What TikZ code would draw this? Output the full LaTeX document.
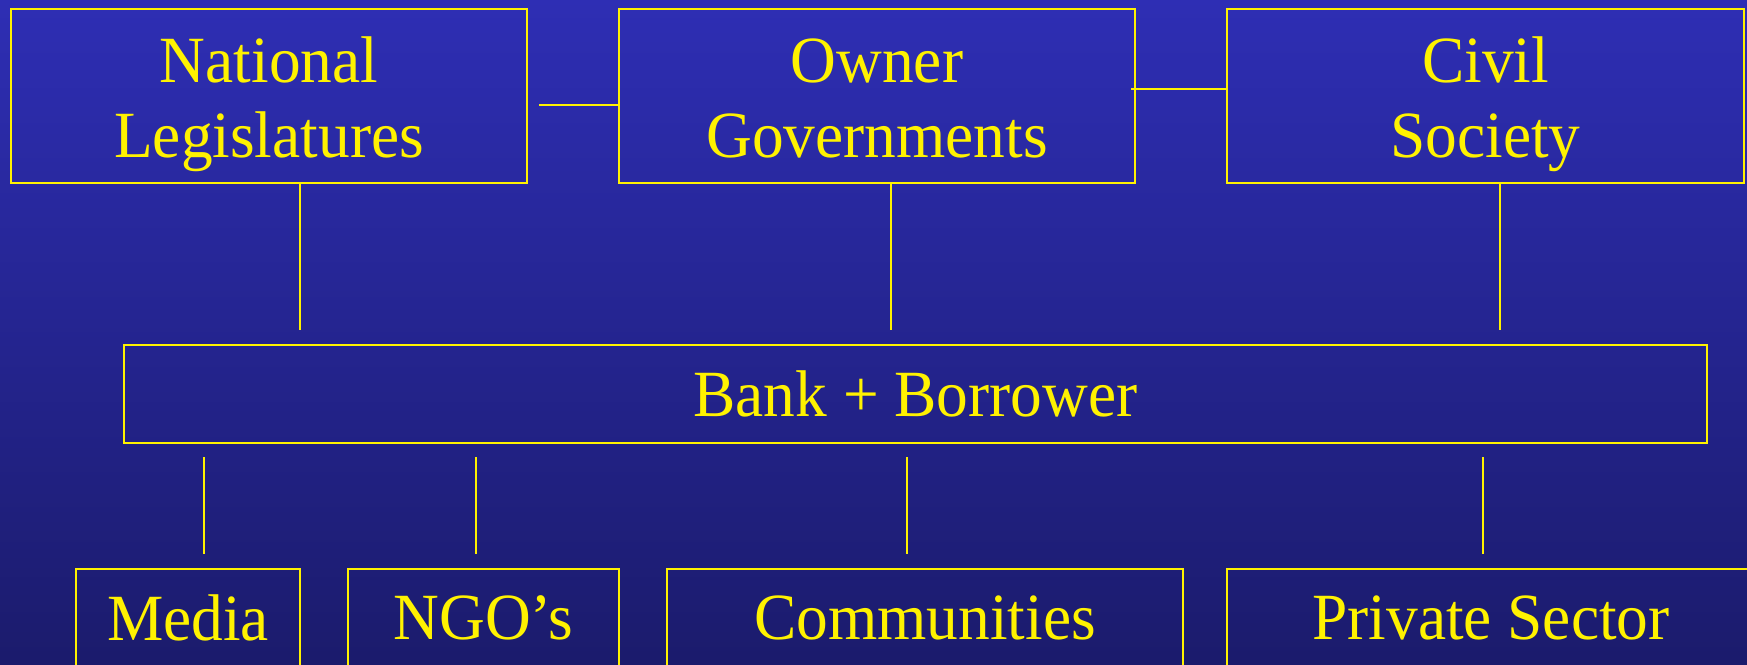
\documentclass[tikz,border=0pt]{standalone}
\usepackage{fontspec}
\setmainfont{Liberation Serif}[FakeStretch=0.96]
\definecolor{bgtop}{RGB}{46,46,180}
\definecolor{bgbottom}{RGB}{27,27,108}
\tikzset{
  box/.style={draw=yellow, line width=2pt, text=yellow, align=center, inner sep=0pt, outer sep=0pt},
  topbox/.style={box, minimum height=174pt, text height=123.4pt, text depth=0pt},
  link/.style={draw=yellow, line width=1.6pt},
}
\begin{document}
\begin{tikzpicture}[x=1pt, y=-1pt, font=\fontsize{66}{75.5}\selectfont, line cap=butt]
  \shade[top color=bgtop, bottom color=bgbottom] (0,0) rectangle (1747,664);
  \useasboundingbox (0,0) rectangle (1747,664);
  % top row
  \node[topbox, minimum width=516pt] (nl) at (269,96) {National\\Legislatures};
  \node[topbox, minimum width=516pt] (og) at (877,96) {Owner\\Governments};
  \node[topbox, minimum width=517pt] (cs) at (1485.5,96) {Civil\\Society};
  % middle
  \node[box, minimum width=1583pt, minimum height=98pt] (bank) at (915.5,394) {Bank + Borrower};
  % bottom row
  \node[box, minimum width=224pt, minimum height=98pt] (media) at (188,618) {Media};
  \node[box, minimum width=271pt, minimum height=98pt] (ngo) at (483.5,618) {NGO’s};
  \node[box, minimum width=516pt, minimum height=98pt] (comm) at (925,618) {Communities};
  \node[box, minimum width=528pt, minimum height=98pt] (ps) at (1491,618) {Private Sector};
  % links
  \draw[link, shorten <=12pt] ([yshift=-9pt]nl.east) -- ([yshift=-9pt]nl.east -| og.west);
  \draw[link, shorten <=-4pt] ([yshift=7pt]og.east) -- ([yshift=7pt]og.east -| cs.west);
  \foreach \a/\dx in {nl/31, og/14, cs/14.5}
    \draw[link, shorten >=15pt] ([xshift=\dx pt]\a.south) -- ([xshift=\dx pt]\a.south |- bank.north);
  \foreach \b/\dx in {media/16, ngo/-7.5, comm/-18, ps/-8}
    \draw[link, shorten <=14pt, shorten >=15pt] ([xshift=\dx pt]\b.north |- bank.south) -- ([xshift=\dx pt]\b.north);
\end{tikzpicture}
\end{document}
